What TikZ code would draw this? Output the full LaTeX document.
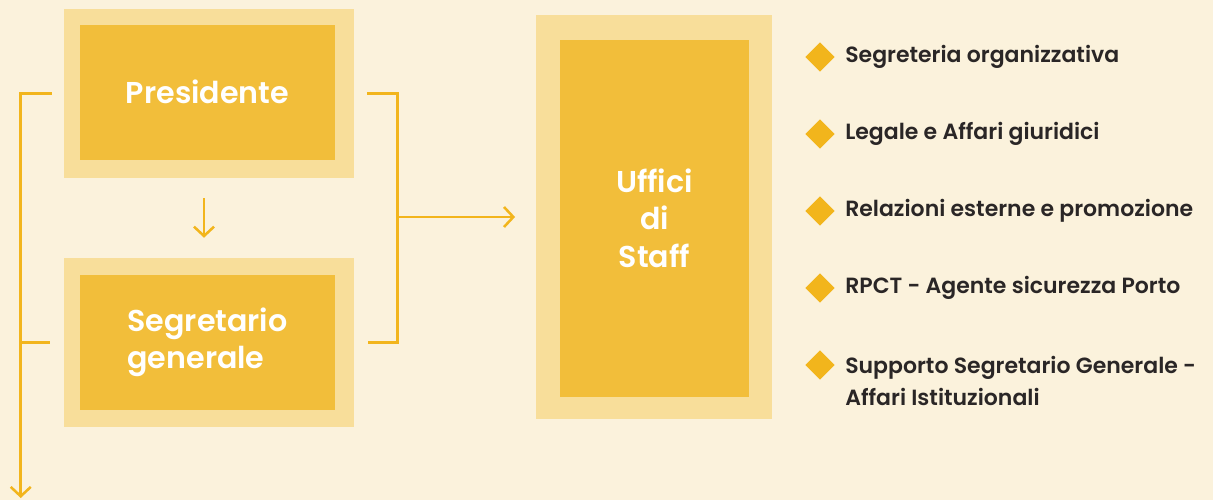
\documentclass[tikz,border=0pt]{standalone}
\usepackage{fontspec}
\setmainfont{Poppins}[BoldFont={* SemiBold}]
\usetikzlibrary{arrows.meta,shapes.geometric}
\definecolor{sfondo}{HTML}{FBF2DC}
\definecolor{cornice}{HTML}{F8DE9A}
\definecolor{riempi}{HTML}{F2BE3A}
\definecolor{linea}{HTML}{F2B51C}
\definecolor{scuro}{HTML}{2A2626}
\tikzset{
	cornicebox/.style={fill=cornice,inner sep=0pt},
	ufficio/.style={fill=riempi,inner sep=0pt,text=white,font=\fontsize{22.6}{28}\selectfont\bfseries,align=center},
	freccia/.style={draw=linea,line width=1.9pt,-{Straight Barb[length=7pt,width=15pt,line width=1.9pt]}},
	linea/.style={draw=linea,line width=1.9pt},
	rombo/.style={diamond,fill=linea,inner sep=0pt,minimum width=22pt,minimum height=22pt},
	voce/.style={anchor=west,text=scuro,font=\fontsize{16.5}{24}\selectfont\bfseries,align=left,inner sep=0pt}
}
\begin{document}
\begin{tikzpicture}[x=0.75pt,y=-0.75pt]
	\fill[sfondo] (0,0) rectangle (1213,500);
	\useasboundingbox (0,0) rectangle (1213,500);
	% riquadri
	\node[cornicebox,minimum width=217.5pt,minimum height=126.75pt] (presout) at (209,93.5) {};
	\node[ufficio,minimum width=191.25pt,minimum height=101.25pt] (pres) at (207.5,92) {Presidente};
	\node[cornicebox,minimum width=217.5pt,minimum height=126.75pt] (segout) at (209,342.5) {};
	\node[ufficio,minimum width=191.25pt,minimum height=101.25pt,align=left] (seg) at (207.5,342.5) {Segretario\\generale};
	\node[cornicebox,minimum width=177pt,minimum height=303pt] (uffout) at (654,217) {};
	\node[ufficio,minimum width=141.75pt,minimum height=267.75pt] (uff) at (654.5,218) {Uffici\\di\\Staff};
	% collegamenti
	\coordinate (fondo) at (21,498);
	\draw[freccia] ([xshift=-9pt]presout.west) -- ++(-23.25pt,0) coordinate (sx) -- (sx |- fondo);
	\draw[linea] ([xshift=-10.5pt]segout.west) -- (sx |- segout.west);
	\draw[linea] ([xshift=9.75pt]presout.east) -- ++(22.5pt,0) coordinate (dx) |- ([xshift=10.5pt]segout.east);
	\draw[freccia] (dx |- uffout.west) -- ([xshift=-15.5pt]uffout.west);
	\draw[freccia] ([xshift=-3.75pt,yshift=-15pt]presout.south) -- ([xshift=-3.75pt,yshift=15pt]segout.north);
	% elenco
	\foreach \n/\y/\testo in {1/57/Segreteria organizzativa,2/134/Legale e Affari giuridici,3/211/Relazioni esterne e promozione,4/288/RPCT - Agente sicurezza Porto}{
		\node[rombo] (r\n) at (820,\y) {};
		\node[voce] (v\n) at (845,\y) {\testo};
	}
	\node[rombo] (r5) at (820,365) {};
	\node[voce] (v5) at (845,381) {Supporto Segretario Generale -\\Affari Istituzionali};
\end{tikzpicture}
\end{document}
